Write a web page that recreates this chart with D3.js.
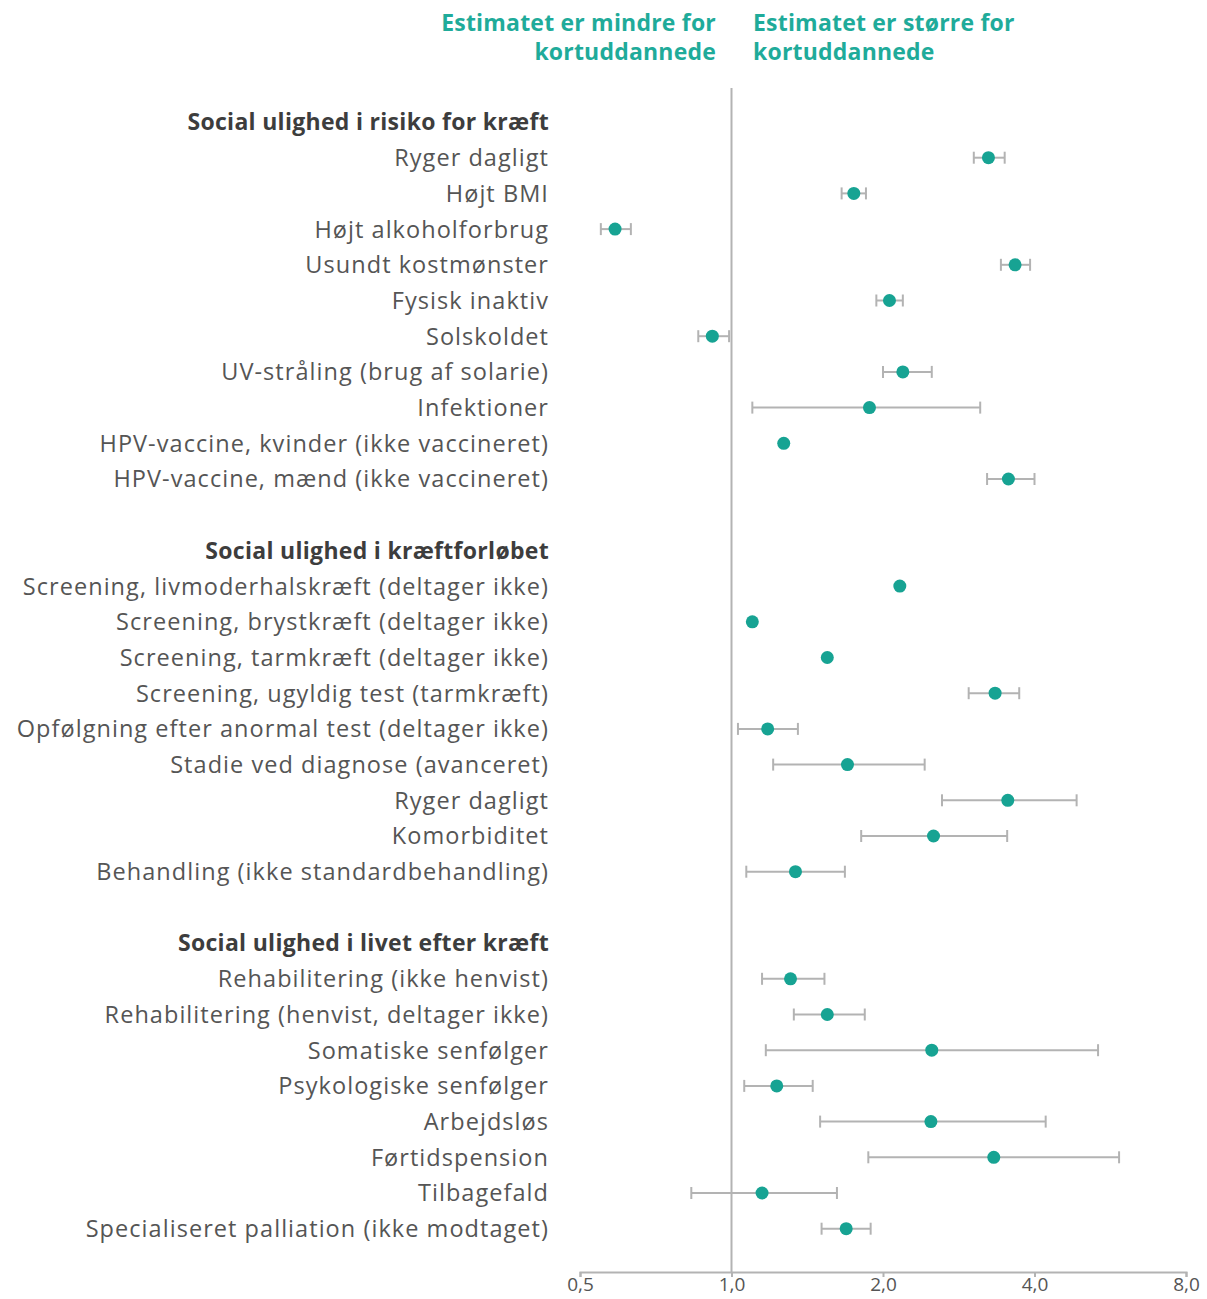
<!DOCTYPE html>
<html lang="da">
<head>
<meta charset="UTF-8">
<script src="https://d3js.org/d3.v7.min.js"></script>
<style>
  body { margin: 0; background: #fff; }
  svg { font-family: "Open Sans", "Noto Sans", sans-serif; }
</style>
</head>
<body>
<script>
// Section titles
const sectionTitles = [
    'Social ulighed i risiko for kræft',
    'Social ulighed i kræftforløbet',
    'Social ulighed i livet efter kræft'
];

// Section 1
const labels1 = ['Ryger dagligt', 'Højt BMI', 'Højt alkoholforbrug', 'Usundt kostmønster', 'Fysisk inaktiv',
    'Solskoldet', 'UV-stråling (brug af solarie)', 'Infektioner', 'HPV-vaccine, kvinder (ikke vaccineret)',
    'HPV-vaccine, mænd (ikke vaccineret)'];
const est1 = [3.24, 1.75, 0.587, 3.66, 2.06, 0.916, 2.19, 1.88, 1.27, 3.55];
const lo1 = [3.03, 1.655, 0.55, 3.43, 1.94, 0.859, 2.0, 1.10, 1.27, 3.22];
const hi1 = [3.49, 1.85, 0.631, 3.92, 2.19, 0.989, 2.50, 3.12, 1.27, 4.0];

// Section 2
const labels2 = ['Screening, livmoderhalskræft (deltager ikke)', 'Screening, brystkræft (deltager ikke)',
    'Screening, tarmkræft (deltager ikke)', 'Screening, ugyldig test (tarmkræft)',
    'Opfølgning efter anormal test (deltager ikke)', 'Stadie ved diagnose (avanceret)', 'Ryger dagligt',
    'Komorbiditet', 'Behandling (ikke standardbehandling)'];
const est2 = [2.16, 1.10, 1.55, 3.34, 1.18, 1.70, 3.54, 2.52, 1.34];
const lo2 = [2.16, 1.10, 1.55, 2.96, 1.03, 1.21, 2.62, 1.81, 1.07];
const hi2 = [2.16, 1.10, 1.55, 3.73, 1.355, 2.42, 4.85, 3.53, 1.68];

// Section 3
const labels3 = ['Rehabilitering (ikke henvist)', 'Rehabilitering (henvist, deltager ikke)', 'Somatiske senfølger',
    'Psykologiske senfølger', 'Arbejdsløs', 'Førtidspension', 'Tilbagefald', 'Specialiseret palliation (ikke modtaget)'];
const est3 = [1.31, 1.55, 2.50, 1.23, 2.49, 3.32, 1.15, 1.69];
const lo3 = [1.15, 1.33, 1.17, 1.06, 1.50, 1.87, 0.832, 1.51];
const hi3 = [1.53, 1.84, 5.35, 1.45, 4.21, 5.89, 1.62, 1.89];

const tickValues = [0.5, 1, 2, 4, 8];
const tickLabels = ['0,5', '1,0', '2,0', '4,0', '8,0'];

const teal = '#17a393';
const gray = '#b3b3b3';

// build rows: header, items, blank
const rows = [];
const sections = [[labels1, est1, lo1, hi1], [labels2, est2, lo2, hi2], [labels3, est3, lo3, hi3]];
sections.forEach(function (s, si) {
    rows.push({ type: 'header', label: sectionTitles[si] });
    s[0].forEach(function (l, i) {
        rows.push({ type: 'item', label: l, est: s[1][i], lo: s[2][i], hi: s[3][i] });
    });
    if (si < sections.length - 1) rows.push({ type: 'blank' });
});

const svg = d3.select('body').append('svg')
    .attr('width', 1207)
    .attr('height', 1299);

const xScale = d3.scaleLog()
    .domain([0.5, 8])
    .range([580, 1186]);

const yScale = d3.scaleLinear()
    .domain([0, rows.length - 1])
    .range([122, 1228.7]);

// Top annotations
const note = svg.append('g')
    .attr('font-weight', 700)
    .attr('font-size', '23px')
    .attr('letter-spacing', '0.2px')
    .attr('fill', '#1fab9a');
note.append('text').attr('x', 716).attr('y', 31).attr('text-anchor', 'end').text('Estimatet er mindre for');
note.append('text').attr('x', 716).attr('y', 60).attr('text-anchor', 'end').text('kortuddannede');
note.append('text').attr('x', 753).attr('y', 31).text('Estimatet er større for');
note.append('text').attr('x', 753).attr('y', 60).text('kortuddannede');

// Reference line at 1,0
svg.append('line')
    .attr('x1', xScale(1)).attr('x2', xScale(1))
    .attr('y1', 88).attr('y2', 1272)
    .attr('stroke', gray)
    .attr('stroke-width', 2);

// x-axis
const axis = svg.append('g')
    .attr('transform', 'translate(0, 1272)')
    .call(d3.axisBottom(xScale)
        .tickValues(tickValues)
        .tickFormat((d, i) => tickLabels[i])
        .tickSize(5)
        .tickPadding(0));
axis.select('.domain').attr('stroke', gray).attr('stroke-width', 2);
axis.selectAll('.tick line').attr('stroke', gray).attr('stroke-width', 2);
axis.selectAll('.tick text')
    .attr('font-size', '19px')
    .attr('fill', '#555')
    .attr('font-family', '"Open Sans", sans-serif');

// Labels
svg.selectAll('.rowlabel')
    .data(rows.filter(d => d.type !== 'blank'))
    .enter()
    .append('text')
    .attr('class', 'rowlabel')
    .attr('x', 549)
    .attr('y', d => yScale(rows.indexOf(d)))
    .attr('dy', '0.36em')
    .attr('text-anchor', 'end')
    .attr('font-size', d => d.type === 'header' ? '23px' : '23.5px')
    .attr('letter-spacing', d => d.type === 'header' ? '0.3px' : '1.05px')
    .attr('font-weight', d => d.type === 'header' ? 700 : 400)
    .attr('fill', d => d.type === 'header' ? '#3d3d3d' : '#555')
    .text(d => d.label);

const items = rows.filter(d => d.type === 'item');

// Confidence intervals
const ci = svg.selectAll('.ci')
    .data(items.filter(d => d.hi > d.lo))
    .enter()
    .append('g')
    .attr('class', 'ci')
    .attr('stroke', gray)
    .attr('stroke-width', 2);
ci.append('line')
    .attr('x1', d => xScale(d.lo)).attr('x2', d => xScale(d.hi))
    .attr('y1', d => yScale(rows.indexOf(d))).attr('y2', d => yScale(rows.indexOf(d)));
ci.append('line')
    .attr('x1', d => xScale(d.lo)).attr('x2', d => xScale(d.lo))
    .attr('y1', d => yScale(rows.indexOf(d)) - 6).attr('y2', d => yScale(rows.indexOf(d)) + 6);
ci.append('line')
    .attr('x1', d => xScale(d.hi)).attr('x2', d => xScale(d.hi))
    .attr('y1', d => yScale(rows.indexOf(d)) - 6).attr('y2', d => yScale(rows.indexOf(d)) + 6);

// Points
svg.selectAll('.dot')
    .data(items)
    .enter()
    .append('circle')
    .attr('class', 'dot')
    .attr('cx', d => xScale(d.est))
    .attr('cy', d => yScale(rows.indexOf(d)))
    .attr('r', 6.5)
    .attr('fill', teal);
</script>
</body>
</html>
